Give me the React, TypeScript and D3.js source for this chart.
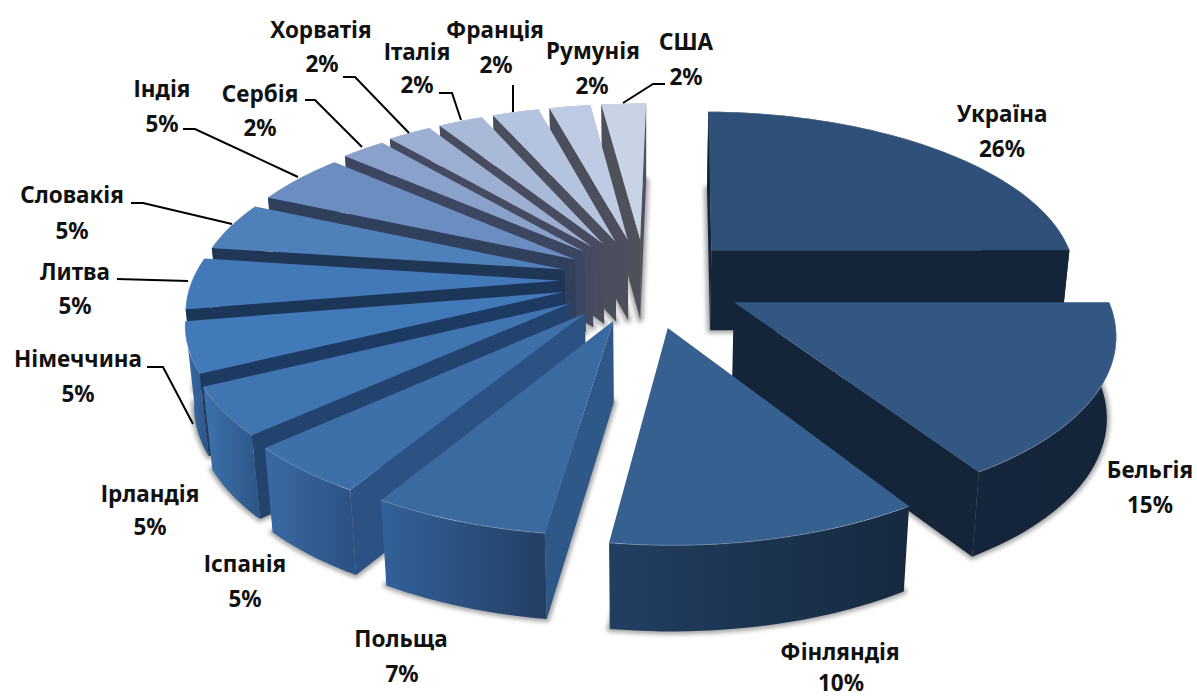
import React from "react";
import * as d3 from "d3";

const countries = ["Україна","Бельгія","Фінляндія","Польща","Іспанія","Ірландія","Німеччина","Литва","Словакія","Індія","Сербія","Хорватія","Італія","Франція","Румунія","США"];
const percentLabels = ["26%","15%","10%","7%","5%","5%","5%","5%","5%","5%","2%","2%","2%","2%","2%","2%"];
// share of the circle each slice visibly occupies
const shares = [24.72,16,11.22,6.4,4.61,4.47,4.67,4.78,4.53,4.83,2.31,2.28,2.33,2.42,2.14,2.31];
const explosions = [0.26,0.27,0.28,0.25,0.25,0.24,0.23,0.23,0.23,0.23,0.24,0.25,0.25,0.25,0.25,0.25];

const topColors = ["#2e5079","#325783","#366090","#3a6a9f","#3e6fa9","#4175b1","#4279b8","#4479b9","#5080ba","#6b8dc0","#8aa2cb","#9cafd3","#a9bad8","#b4c3de","#bfcbe2","#c9d3e6"];
const sideColors = ["#14253a","#14253a","#2d4f7c","#2e5888","#2c5283","#22436e","#1d3a62","#1c3659","#1f3656","#2f3f5c","#3c4661","#454a60","#484c5e","#4b4e5c","#4c4f5b","#4e505a"];
const rimLeft = ["#14253a","#15263c","#223e62","#33619a","#3a6aa3","#3e72ae","#3a6da8","#3a6da8","#3a6da8","#5070a0","#6080a8","#6080a8","#6080a8","#6080a8","#6080a8","#6080a8"];
const rimRight = ["#14253a","#14253a","#16293f","#233f64","#2c5183","#2d5586","#2d5586","#2d5586","#2d5586","#405a80","#506a90","#506a90","#506a90","#506a90","#506a90","#506a90"];

const labelAnchors: [number, number, number, number][] = [
  [1002,122,1002,157],[1150,478,1150,513],[840,660,841,691],[401,647,402,682],
  [245,572,245,607],[150,502,150,535],[78,367,78,402],[75,280,75,314],
  [72,203,72,239],[162,97,162,132],[260,102,260,136],[321,38,322,72],
  [417,60,417,93],[495,38,496,73],[593,59,592,94],[686,50,686,85],
];
const leaders: [number, number][][] = [
  [],[],[],[],[],[],
  [[147,367],[163,367],[193,424]],
  [[117,279],[188,281]],
  [[131,203],[143,203],[232,224]],
  [[183,129],[195,129],[298,177]],
  [[305,100],[315,100],[362,147]],
  [[343,77],[355,77],[409,133]],
  [[439,93],[452,93],[461,120]],
  [[513,85],[513,112]],
  [],
  [[665,84],[653,84],[623,103]],
];

const W = 1197, H = 697;
const VP = 645, CY = 280, RX = 368, RY = 168, K = 0.152, SHRINK = 0.98;
const START = Math.PI / 180;

const sx = d3.scaleLinear().domain([-1, 1]).range([VP - RX, VP + RX]);
const sy = d3.scaleLinear().domain([-1, 1]).range([CY + RY, CY - RY]);
type P = [number, number];
const project = (x: number, y: number): P => {
  const s = 1 / (1 + K * y);
  return [sx(x * s), sy(y * s)];
};
const depthAt = d3.scaleLinear().domain([100, 540]).range([77, 86]);
const drop = ([x, y]: P): P => [VP + (x - VP) * SHRINK, y + depthAt(y)];
const closed = d3.line<P>();
const poly = (pts: P[]) => closed(pts) + "Z";

const arcs = d3.pie<number>().sort(null).startAngle(START).endAngle(START + 2 * Math.PI)(shares);

const slices = arcs.map((a, i) => {
  const mid = (a.startAngle + a.endAngle) / 2;
  const ox = explosions[i] * Math.sin(mid), oy = explosions[i] * Math.cos(mid);
  const pt = (t: number): P => project(ox + Math.sin(t), oy + Math.cos(t));
  const n = Math.max(8, Math.ceil((a.endAngle - a.startAngle) / 0.03));
  const rim: P[] = d3.range(n + 1).map(j => pt(a.startAngle + (a.endAngle - a.startAngle) * j / n));
  const apex = project(ox, oy);
  const first = rim[0], last = rim[n];
  const startWall: P[] = [apex, first, drop(first), drop(apex)];
  const endWall: P[] = [apex, last, drop(last), drop(apex)];
  return {
    i, depth: Math.cos(mid), rim, apex,
    top: [apex, ...rim] as P[],
    rimWall: [...rim, ...rim.map(drop).reverse()] as P[],
    bottom: [apex, ...rim].map(drop) as P[],
    startWall, endWall,
    showStart: d3.polygonArea(startWall) > 0,
    showEnd: d3.polygonArea(endWall) < 0,
  };
});
const painted = [...slices].sort((a, b) => d3.descending(a.depth, b.depth));

export default function App() {
  const font = { fontFamily: "'Noto Sans', 'Open Sans', sans-serif", fontWeight: 700, fontSize: 22.5, fill: "#111" };
  return (
    <svg width={W} height={H} viewBox={`0 0 ${W} ${H}`} style={{ position: "absolute", left: 0, top: 0, background: "#fff" }}>
      <defs>
        <filter id="soft" x="-10%" y="-10%" width="120%" height="120%"><feGaussianBlur stdDeviation="2" /></filter>
        {slices.map(s => (
          <linearGradient key={s.i} id={`rim${s.i}`} x1="0" x2="1" y1="0" y2="0">
            <stop offset="0" stopColor={rimLeft[s.i]} />
            <stop offset="1" stopColor={rimRight[s.i]} />
          </linearGradient>
        ))}
      </defs>
      <g filter="url(#soft)">
        {slices.map(s => (
          <path key={s.i} d={poly(s.bottom)} fill="#9a9a9a" stroke="#a8a8a8" strokeWidth={6} strokeLinejoin="round" />
        ))}
      </g>
      {painted.map(s => (
        <g key={s.i}>
          <path d={poly(s.rimWall)} fill={`url(#rim${s.i})`} />
          {s.showEnd && <path d={poly(s.endWall)} fill={sideColors[s.i]} />}
          {s.showStart && <path d={poly(s.startWall)} fill={sideColors[s.i]} />}
          <path d={poly(s.top)} fill={topColors[s.i]} />
          <path d={closed(s.rim) ?? ""} fill="none" stroke="#fff" strokeOpacity={0.25} strokeWidth={1} />
        </g>
      ))}
      {leaders.map((l, i) => l.length > 0 && (
        <path key={i} d={closed(l) ?? ""} fill="none" stroke="#000" strokeWidth={2} />
      ))}
      {countries.map((c, i) => (
        <g key={c} textAnchor="middle" style={font}>
          <text x={labelAnchors[i][0]} y={labelAnchors[i][1]}>{c}</text>
          <text x={labelAnchors[i][2]} y={labelAnchors[i][3]}>{percentLabels[i]}</text>
        </g>
      ))}
    </svg>
  );
}
